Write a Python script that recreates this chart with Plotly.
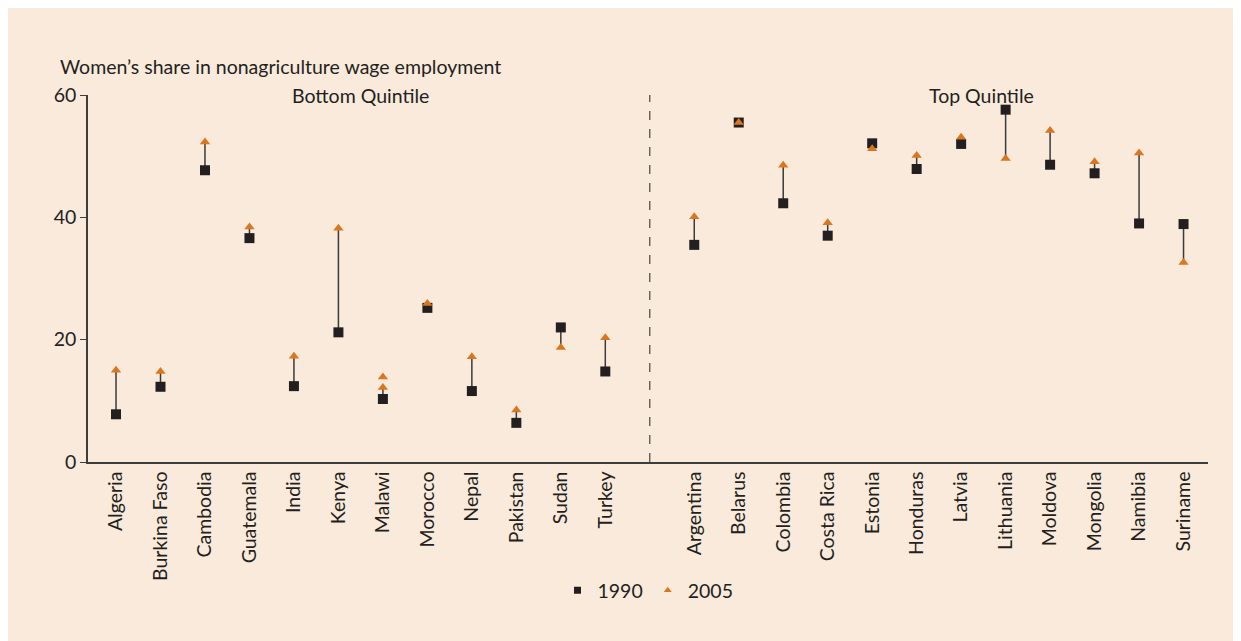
import plotly.graph_objects as go

BOTTOM = ["Algeria", "Burkina Faso", "Cambodia", "Guatemala", "India", "Kenya",
          "Malawi", "Morocco", "Nepal", "Pakistan", "Sudan", "Turkey"]
TOP = ["Argentina", "Belarus", "Colombia", "Costa Rica", "Estonia", "Honduras",
       "Latvia", "Lithuania", "Moldova", "Mongolia", "Namibia", "Suriname"]

BOTTOM_1990 = [7.8, 12.3, 47.7, 36.6, 12.4, 21.2, 10.3, 25.2, 11.6, 6.4, 22.0, 14.8]
BOTTOM_2005 = [15.0, 14.8, 52.3, 38.4, 17.3, 38.2, 12.2, 25.9, 17.2, 8.5, 18.7, 20.3]
TOP_1990 = [35.5, 55.5, 42.3, 37.0, 52.1, 47.9, 52.0, 57.6, 48.6, 47.2, 39.0, 38.9]
TOP_2005 = [40.1, 55.5, 48.5, 39.1, 51.2, 50.1, 53.1, 49.6, 54.2, 49.1, 50.5, 32.6]

# Malawi shows a second 2005 marker
EXTRA_2005_COUNTRY = ["Malawi"]
EXTRA_2005_VALUE = [13.9]

Y_TICKS = [0, 20, 40, 60]

BG = "#F9EADC"
DARK = "#231F20"
ORANGE = "#DC761E"
FONT = "Lato"
FS = 19.5

# x positions: bottom quintile 0..11, gap at 12, top quintile 13..24
countries = BOTTOM + TOP
xpos = list(range(len(BOTTOM))) + [len(BOTTOM) + 1 + i for i in range(len(TOP))]
v1990 = BOTTOM_1990 + TOP_1990
v2005 = BOTTOM_2005 + TOP_2005
gap_x = len(BOTTOM)

fig = go.Figure()

# connectors
lx, ly = [], []
for x, a, b in zip(xpos, v1990, v2005):
    lx += [x, x, None]
    ly += [a, b, None]
fig.add_trace(go.Scatter(x=lx, y=ly, mode="lines", line=dict(color="#3a3a3a", width=1.5),
                         showlegend=False, hoverinfo="skip"))

fig.add_trace(go.Scatter(
    x=xpos, y=v1990, mode="markers", name="1990", showlegend=False,
    marker=dict(symbol="square", size=10, color=DARK),
))
fig.add_trace(go.Scatter(
    x=xpos, y=v2005, mode="markers", name="2005", showlegend=False,
    marker=dict(symbol="triangle-up", size=9, color=ORANGE),
))
fig.add_trace(go.Scatter(
    x=[xpos[countries.index(c)] for c in EXTRA_2005_COUNTRY], y=EXTRA_2005_VALUE,
    mode="markers", showlegend=False,
    marker=dict(symbol="triangle-up", size=9, color=ORANGE),
))
# legend-only entries with smaller symbols
fig.add_trace(go.Scatter(x=[None], y=[None], mode="markers", name="1990",
                         marker=dict(symbol="square", size=7, color=DARK)))
fig.add_trace(go.Scatter(x=[None], y=[None], mode="markers", name="2005",
                         marker=dict(symbol="triangle-up", size=7, color=ORANGE)))

# dashed divider between quintiles
fig.add_shape(type="line", x0=gap_x, x1=gap_x, y0=0, y1=60.3, xref="x", yref="y",
              line=dict(color="#444444", width=1.2, dash="dash"))

fig.add_annotation(text="Women\u2019s share in nonagriculture wage employment",
                   xref="paper", yref="paper", x=-0.027, y=1.078, xanchor="left",
                   yanchor="middle", showarrow=False, font=dict(size=FS, color=DARK))
fig.add_annotation(text="Bottom Quintile", xref="x", yref="paper", x=(len(BOTTOM) - 1) / 2,
                   y=1.0, yanchor="middle", showarrow=False, font=dict(size=FS, color=DARK))
fig.add_annotation(text="Top Quintile", xref="x", yref="paper",
                   x=gap_x + 1 + (len(TOP) - 1) / 2 + 0.95,
                   y=1.0, yanchor="middle", showarrow=False, font=dict(size=FS, color=DARK))

fig.update_layout(
    width=1241, height=641,
    paper_bgcolor=BG, plot_bgcolor=BG,
    margin=dict(l=80, r=41, t=87, b=187),
    font=dict(family=FONT, size=FS, color=DARK),
    showlegend=True,
    legend=dict(orientation="h", x=0.5, xanchor="center", y=-0.35, yanchor="middle",
                bgcolor="rgba(0,0,0,0)", font=dict(size=FS), itemwidth=30),
)
fig.update_xaxes(
    range=[-0.63, 24.55], tickmode="array", tickvals=xpos, ticktext=countries,
    tickangle=-90, showgrid=False, zeroline=False, showline=True,
    linecolor="#3d3d3d", linewidth=1.5, ticks="",
)
fig.update_yaxes(
    range=[0, 60], tickvals=Y_TICKS, showgrid=False, zeroline=False, showline=True,
    linecolor="#3d3d3d", linewidth=1.5, ticks="outside", ticklen=6, tickcolor="#3d3d3d",
)

fig.write_html("out.html")
